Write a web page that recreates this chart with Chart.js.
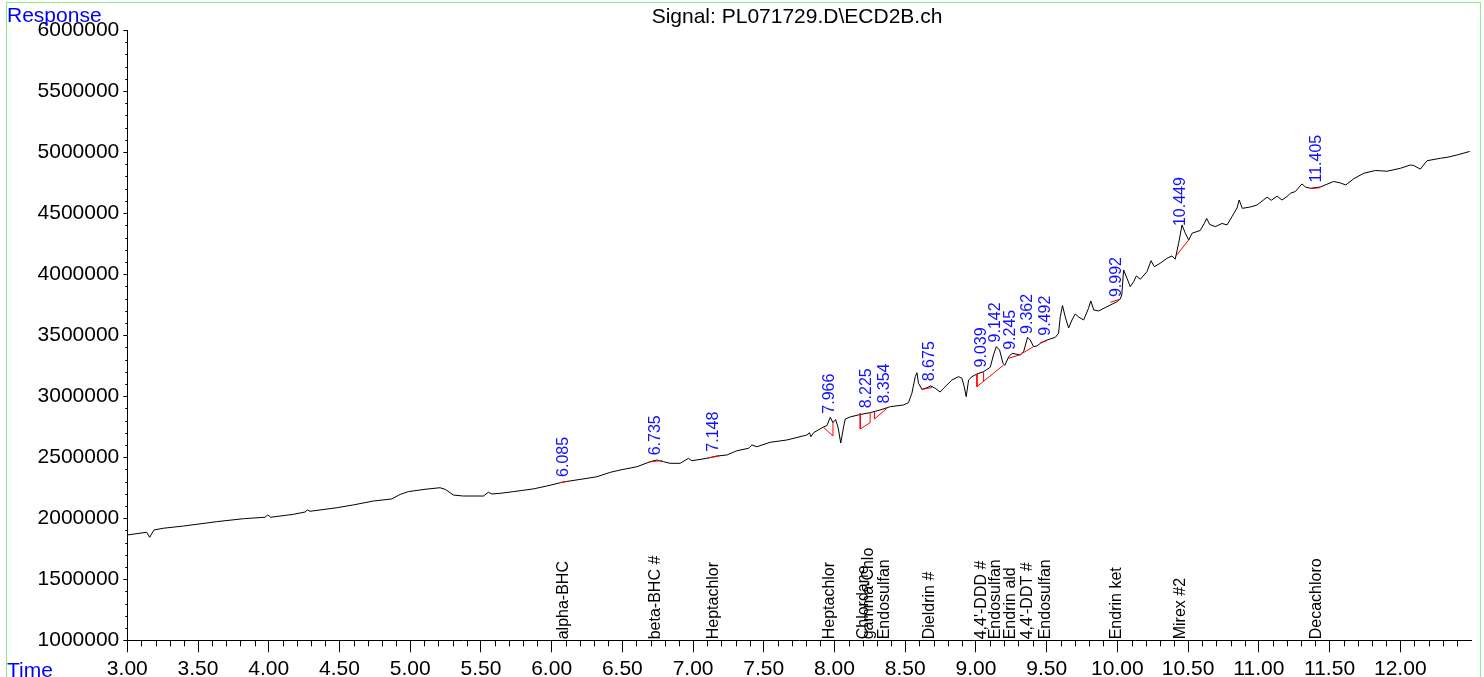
<!DOCTYPE html>
<html><head><meta charset="utf-8">
<script src="https://cdn.jsdelivr.net/npm/chart.js@4.4.1/dist/chart.umd.min.js"></script>
<style>html,body{margin:0;padding:0;background:#fff;overflow:hidden}canvas{display:block}</style>
</head><body>
<canvas id="c" width="1484" height="677"></canvas>
<script>
const chartTitle = 'Signal: PL071729.D\\ECD2B.ch';
const yAxisTitle = 'Response';
const xAxisTitle = 'Time';

const times = [3.000,3.137,3.158,3.189,3.255,3.396,3.632,3.820,3.974,3.993,
4.014,4.174,4.257,4.273,4.292,4.481,4.598,4.740,4.870,4.929,
4.987,5.105,5.211,5.247,5.306,5.376,5.518,5.553,5.577,5.636,
5.730,5.869,5.966,6.083,6.251,6.320,6.414,6.484,6.603,6.697,
6.744,6.791,6.838,6.909,6.967,6.991,7.098,7.168,7.239,7.310,
7.392,7.416,7.451,7.545,7.663,7.805,7.823,7.833,7.852,7.922,
7.946,7.970,7.989,8.008,8.026,8.044,8.064,8.076,8.111,8.182,
8.252,8.323,8.394,8.488,8.523,8.547,8.571,8.583,8.594,8.618,
8.648,8.680,8.712,8.747,8.771,8.830,8.877,8.901,8.917,8.931,
8.948,8.972,9.007,9.054,9.101,9.124,9.144,9.167,9.191,9.204,
9.231,9.255,9.313,9.337,9.365,9.384,9.407,9.431,9.455,9.502,
9.561,9.584,9.596,9.612,9.631,9.655,9.679,9.702,9.726,9.761,
9.796,9.812,9.833,9.867,9.926,9.997,10.020,10.031,10.044,10.068,
10.091,10.115,10.134,10.162,10.209,10.238,10.261,10.303,10.351,10.386,
10.409,10.433,10.457,10.480,10.504,10.528,10.586,10.615,10.631,10.652,
10.692,10.740,10.775,10.810,10.846,10.861,10.883,10.940,10.987,11.058,
11.088,11.129,11.164,11.199,11.223,11.258,11.305,11.329,11.364,11.435,
11.529,11.576,11.615,11.670,11.741,11.824,11.907,12.001,12.071,12.095,
12.142,12.189,12.284,12.331,12.402,12.491];

const responses = [1863000,1885000,1844000,1904000,1918000,1936000,1972000,1996000,2008000,2027000,
2008000,2032000,2051000,2068000,2057000,2086000,2109000,2141000,2158000,2195000,
2218000,2237000,2250000,2237000,2190000,2182000,2182000,2213000,2199000,2204000,
2218000,2240000,2264000,2297000,2327000,2340000,2376000,2395000,2422000,2463000,
2477000,2463000,2450000,2450000,2491000,2471000,2491000,2510000,2518000,2553000,
2573000,2600000,2586000,2622000,2641000,2682000,2701000,2668000,2701000,2748000,
2758000,2827000,2783000,2809000,2739000,2616000,2748000,2813000,2830000,2850000,
2865000,2887000,2914000,2928000,2947000,3024000,3160000,3192000,3106000,3056000,
3067000,3084000,3065000,3034000,3065000,3133000,3160000,3147000,3078000,2996000,
3133000,3160000,3182000,3201000,3237000,3338000,3406000,3378000,3270000,3253000,
3321000,3351000,3338000,3365000,3482000,3460000,3406000,3411000,3433000,3460000,
3482000,3515000,3651000,3743000,3651000,3559000,3624000,3673000,3649000,3624000,
3720000,3780000,3706000,3698000,3733000,3774000,3796000,3829000,4034000,3966000,
3897000,3938000,3985000,3958000,4020000,4110000,4061000,4089000,4130000,4149000,
4122000,4253000,4403000,4335000,4280000,4335000,4358000,4417000,4457000,4407000,
4389000,4415000,4403000,4471000,4542000,4607000,4539000,4550000,4566000,4630000,
4605000,4638000,4607000,4636000,4662000,4677000,4739000,4714000,4703000,4714000,
4759000,4747000,4730000,4781000,4826000,4849000,4843000,4867000,4894000,4890000,
4860000,4929000,4949000,4957000,4976000,5005000];

// integration baselines (segments separated by null)
const baselineTimes = [6.060,6.110,null,6.690,6.781,null,7.107,7.192,null,
7.922,7.989,7.989,null,8.182,8.182,8.252,8.252,null,8.283,8.283,8.375,null,
8.618,8.689,null,9.007,9.007,9.195,null,9.054,9.054,null,9.231,9.308,9.407,null,
9.455,9.502,null,9.950,10.016,null,10.414,10.508,null,11.364,11.435];
const baselineResponses = [2292000,2301000,null,2461000,2473000,null,2494000,2512000,null,
2745000,2674000,2783000,null,2860000,2731000,2783000,2865000,null,2868000,2813000,2906000,null,
3055000,3071000,null,3182000,3078000,3255000,null,3122000,3201000,null,3310000,3338000,3406000,null,
3438000,3455000,null,3769000,3794000,null,4149000,4285000,null,4700000,4708000];

const peakTimes = [6.085,6.735,7.148,7.966,8.225,8.354,8.675,9.039,9.142,9.245,9.362,9.492,9.992,10.449,11.405];
const peakLabels = ['6.085','6.735','7.148','7.966','8.225','8.354','8.675','9.039','9.142','9.245','9.362','9.492','9.992','10.449','11.405'];

const compoundNames = ['alpha-BHC','beta-BHC #','Heptachlor','Heptachlor','Chlordane','gamma-Chlo','Endosulfan','Dieldrin #',"4,4'-DDD #",'Endosulfan','Endrin ald',"4,4'-DDT #",'Endosulfan','Endrin ket','Mirex #2','Decachloro'];
const compoundTimes = [6.085,6.735,7.148,7.966,8.207,8.244,8.354,8.675,9.039,9.142,9.245,9.362,9.492,9.992,10.449,11.405];

const xTickValues = [3.0,3.5,4.0,4.5,5.0,5.5,6.0,6.5,7.0,7.5,8.0,8.5,9.0,9.5,10.0,10.5,11.0,11.5,12.0];
const yTickValues = [1000000,1500000,2000000,2500000,3000000,3500000,4000000,4500000,5000000,5500000,6000000];

const FONT = '"Liberation Sans", Arial, Helvetica, sans-serif';

function interp(t) {
  for (let i = 1; i < times.length; i++) {
    if (times[i] >= t) {
      const f = (t - times[i-1]) / (times[i] - times[i-1]);
      return responses[i-1] + f * (responses[i] - responses[i-1]);
    }
  }
  return responses[responses.length - 1];
}

const baselineSegments = [];
let seg = [];
baselineTimes.forEach((t, i) => {
  if (t === null) { if (seg.length) baselineSegments.push(seg); seg = []; }
  else seg.push({x: t, y: baselineResponses[i]});
});
if (seg.length) baselineSegments.push(seg);

const datasets = baselineSegments.map(s => ({
  data: s, borderColor: '#ff0000', borderWidth: 1, pointRadius: 0, tension: 0, fill: false
}));
datasets.push({
  data: times.map((t, i) => ({x: t, y: responses[i]})),
  borderColor: '#000000', borderWidth: 1, pointRadius: 0, tension: 0, fill: false
});

const overlay = {
  id: 'overlay',
  beforeDraw(chart) {
    const ctx = chart.ctx;
    ctx.save();
    ctx.fillStyle = '#fff';
    ctx.fillRect(0, 0, chart.width, chart.height);
    ctx.restore();
  },
  afterDraw(chart) {
    const {ctx, scales: {x, y}} = chart;
    ctx.save();
    ctx.strokeStyle = '#86ee86';
    ctx.lineWidth = 1;
    ctx.strokeRect(6.5, 2.5, 1474, 700);
    ctx.strokeStyle = '#000';
    ctx.beginPath();
    for (let i = 1; i <= 94; i++) {
      if (i % 5 === 0) continue;
      const px = Math.round(x.getPixelForValue(3 + i * 0.1)) + 0.5;
      ctx.moveTo(px, y.bottom); ctx.lineTo(px, y.bottom + 6);
    }
    for (let i = 1; i < 50; i++) {
      if (i % 5 === 0) continue;
      const py = Math.round(y.getPixelForValue(1000000 + i * 100000)) + 0.5;
      ctx.moveTo(x.left - 2, py); ctx.lineTo(x.left, py);
    }
    ctx.stroke();

    ctx.fillStyle = '#000';
    ctx.font = '21px ' + FONT;
    ctx.textAlign = 'center'; ctx.textBaseline = 'alphabetic';
    ctx.fillText(chartTitle, 797, 23);
    ctx.fillStyle = '#0000ff';
    ctx.textAlign = 'left';
    ctx.fillText(yAxisTitle, 7, 22);
    ctx.fillText(xAxisTitle, 7, 677);

    ctx.font = '16px ' + FONT;
    ctx.fillStyle = '#1010ff';
    peakTimes.forEach((t, i) => {
      const px = x.getPixelForValue(t);
      const py = y.getPixelForValue(interp(t)) - 5;
      ctx.save();
      ctx.translate(px, py); ctx.rotate(-Math.PI / 2);
      ctx.textAlign = 'left'; ctx.textBaseline = 'middle';
      ctx.fillText(peakLabels[i], 0, 0);
      ctx.restore();
    });

    ctx.font = '16px ' + FONT;
    ctx.fillStyle = '#000';
    compoundNames.forEach((n, i) => {
      const px = x.getPixelForValue(compoundTimes[i]);
      ctx.save();
      ctx.translate(px, y.bottom - 1); ctx.rotate(-Math.PI / 2);
      ctx.textAlign = 'left'; ctx.textBaseline = 'middle';
      ctx.fillText(n, 0, 0);
      ctx.restore();
    });
    ctx.restore();
  }
};

new Chart(document.getElementById('c'), {
  type: 'line',
  data: {datasets},
  options: {
    responsive: false,
    animation: false,
    devicePixelRatio: 1,
    layout: {padding: {top: 30, right: 13, left: 0, bottom: 0}},
    plugins: {legend: {display: false}, tooltip: {enabled: false}, title: {display: false}},
    scales: {
      x: {
        type: 'linear', min: 3, max: 12.5,
        afterBuildTicks: s => { s.ticks = xTickValues.map(v => ({value: v})); },
        afterFit: s => { s.height = 36.7; },
        ticks: {
          callback: v => Number(v).toFixed(2),
          color: '#000', font: {size: 21, family: FONT}, padding: 4, maxRotation: 0, autoSkip: false
        },
        grid: {display: true, drawOnChartArea: false, drawTicks: true, tickLength: 12, color: '#000', tickColor: '#000'},
        border: {display: true, color: '#000', width: 1}
      },
      y: {
        type: 'linear', min: 1000000, max: 6000000,
        afterBuildTicks: s => { s.ticks = yTickValues.map(v => ({value: v})); },
        afterFit: s => { s.width = 127.3; },
        ticks: {
          callback: v => String(v),
          color: '#000', font: {size: 21, family: FONT}, padding: 4, autoSkip: false
        },
        grid: {display: true, drawOnChartArea: false, drawTicks: true, tickLength: 4, color: '#000', tickColor: '#000'},
        border: {display: true, color: '#000', width: 1}
      }
    }
  },
  plugins: [overlay]
});
</script>
</body></html>
